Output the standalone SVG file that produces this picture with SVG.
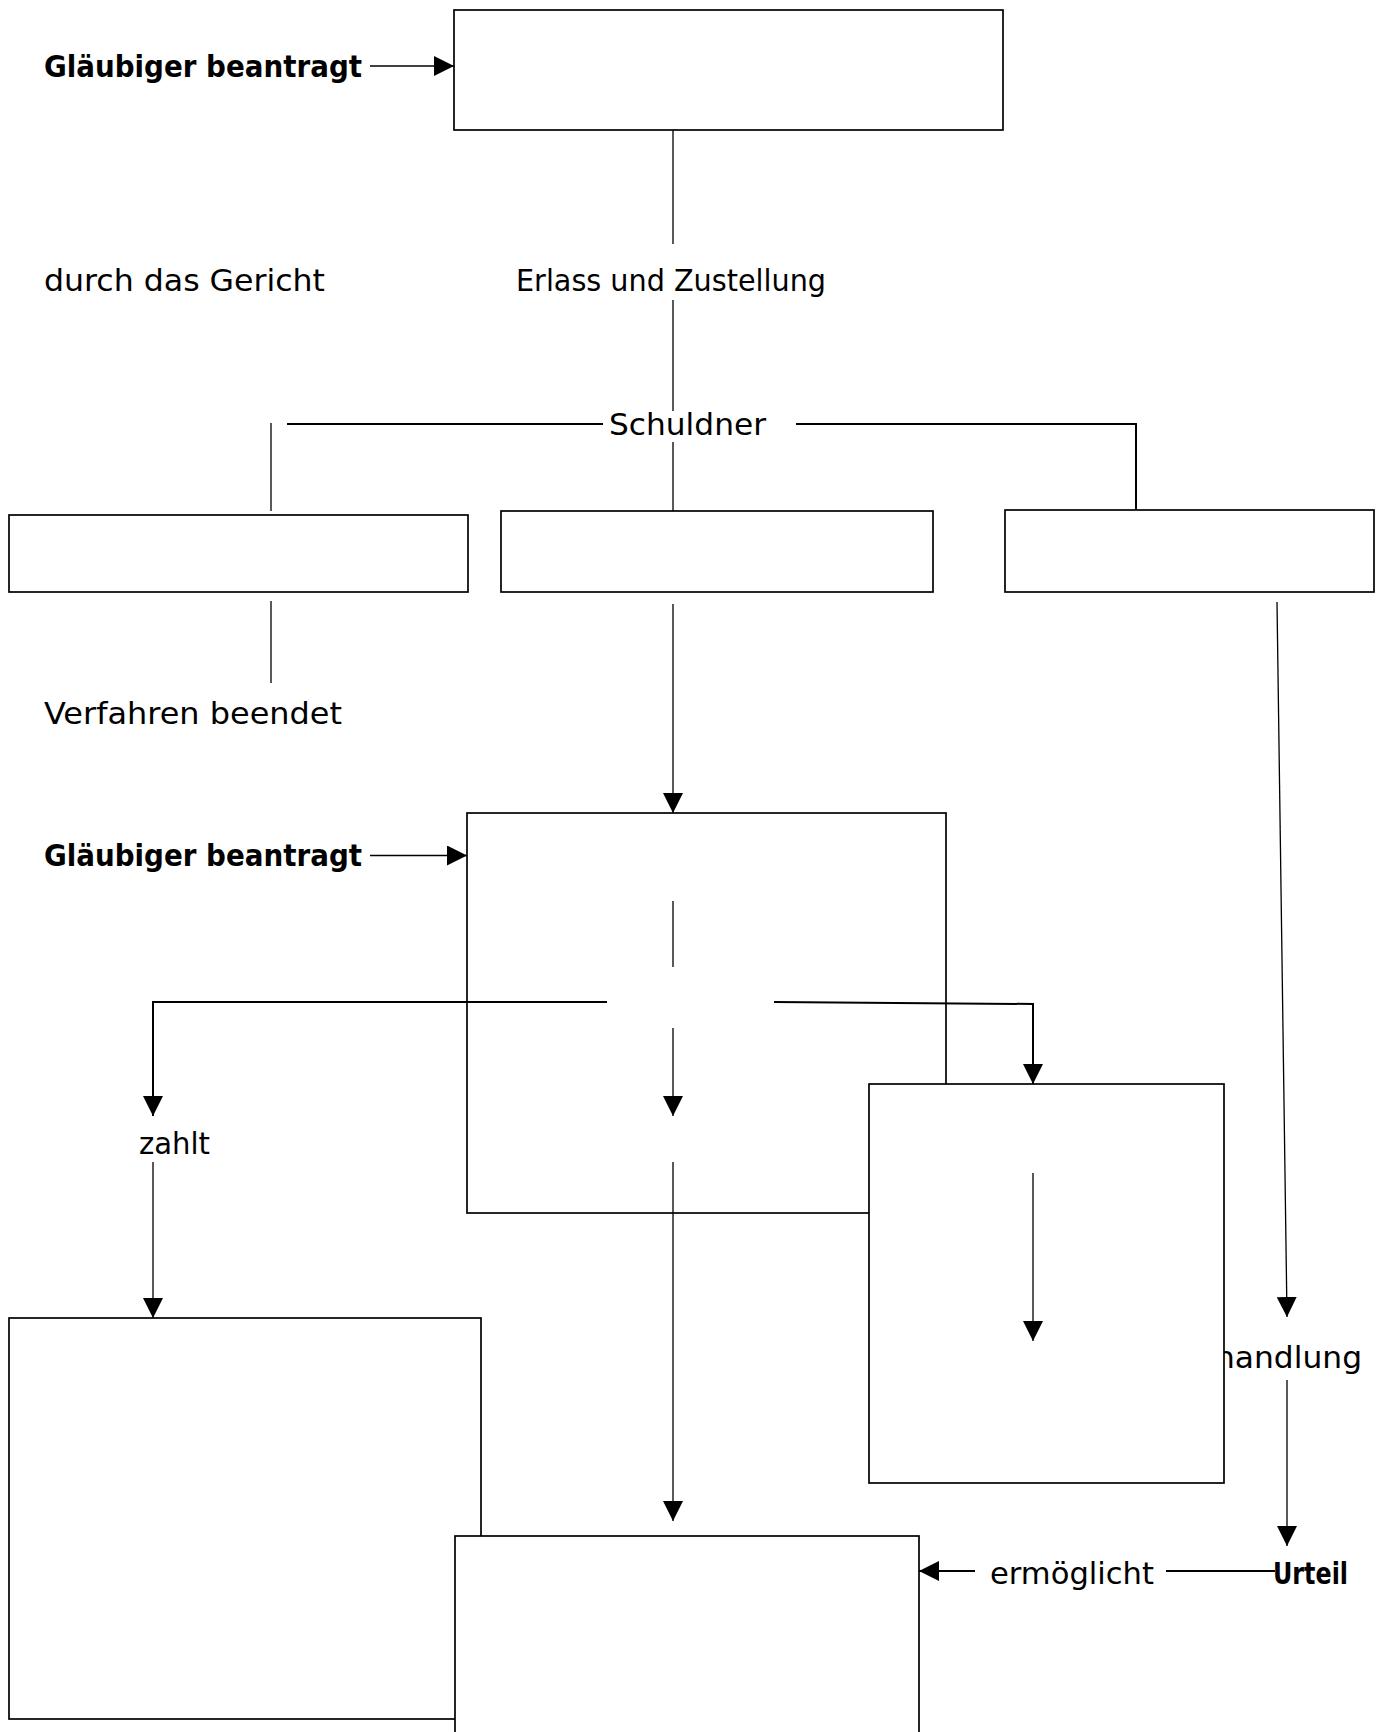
<svg xmlns="http://www.w3.org/2000/svg" width="1383" height="1732" viewBox="0 0 1383 1732">
<style>
.box{fill:#fff;stroke:#000;stroke-width:1.7}
.ln{fill:none;stroke:#000;stroke-width:1.3}
.hl{fill:none;stroke:#000;stroke-width:2}
.t{font-family:"DejaVu Sans","Liberation Sans",sans-serif;font-size:30px;fill:#000}
.b{font-family:"DejaVu Sans","Liberation Sans",sans-serif;font-size:30px;font-weight:bold;fill:#000}
</style>
<defs>
<marker id="ah" markerWidth="20" markerHeight="20" refX="20" refY="10" orient="auto" markerUnits="userSpaceOnUse"><path d="M0,0 L20,10 L0,20 z" fill="#000"/></marker>
</defs>
<rect width="1383" height="1732" fill="#fff"/>
<g id="labels">
<text id="l-glaeubiger1" class="b" x="44" y="76.5" textLength="318" lengthAdjust="spacingAndGlyphs">Gläubiger beantragt</text>
<text id="l-gericht" class="t" x="44" y="291" textLength="281" lengthAdjust="spacingAndGlyphs">durch das Gericht</text>
<text id="l-erlass" class="t" x="516" y="291" textLength="310" lengthAdjust="spacingAndGlyphs">Erlass und Zustellung</text>
<text id="l-schuldner" class="t" x="609" y="435" textLength="157" lengthAdjust="spacingAndGlyphs">Schuldner</text>
<text id="l-verfahren" class="t" x="44" y="723.5" textLength="298" lengthAdjust="spacingAndGlyphs">Verfahren beendet</text>
<text id="l-glaeubiger2" class="b" x="44" y="866" textLength="318" lengthAdjust="spacingAndGlyphs">Gläubiger beantragt</text>
<text id="l-zahlt" class="t" x="139" y="1154" textLength="71" lengthAdjust="spacingAndGlyphs">zahlt</text>
<text id="l-handlung" class="t" x="1215" y="1368" textLength="147" lengthAdjust="spacingAndGlyphs">handlung</text>
<text id="l-ermoeglicht" class="t" x="990" y="1584" textLength="164" lengthAdjust="spacingAndGlyphs">ermöglicht</text>
<text id="l-urteil" class="b" x="1273" y="1584" textLength="75" lengthAdjust="spacingAndGlyphs">Urteil</text>
</g>
<g id="n-top"><rect class="box" x="454" y="10" width="549" height="120"/></g>
<g id="n-left"><rect class="box" x="9" y="515" width="459" height="77"/></g>
<g id="n-mid"><rect class="box" x="501" y="511" width="432" height="81"/></g>
<g id="n-right"><rect class="box" x="1005" y="510" width="369" height="82"/></g>
<g id="n-a"><rect class="box" x="467" y="813" width="479" height="400"/></g>
<g id="n-b"><rect class="box" x="869" y="1084" width="355" height="399"/></g>
<g id="n-c"><rect class="box" x="9" y="1318" width="472" height="401"/></g>
<g id="n-d"><rect class="box" x="455" y="1536" width="464" height="210"/></g>
<g id="connectors">
<line class="ln" x1="370" y1="66" x2="454" y2="66" marker-end="url(#ah)"/>
<line class="ln" x1="673" y1="130" x2="673" y2="244"/>
<line class="ln" x1="673" y1="300" x2="673" y2="411"/>
<line class="ln" x1="673" y1="442" x2="673" y2="511"/>
<line class="hl" x1="287" y1="424" x2="603" y2="424"/>
<polyline class="hl" points="796,424 1136,424 1136,510"/>
<line class="ln" x1="271" y1="423" x2="271" y2="511"/>
<line class="ln" x1="271" y1="601" x2="271" y2="683"/>
<line class="ln" x1="673" y1="604" x2="673" y2="813" marker-end="url(#ah)"/>
<line class="ln" x1="370" y1="855.5" x2="467" y2="855.5" marker-end="url(#ah)"/>
<line class="ln" x1="673" y1="901" x2="673" y2="967"/>
<polyline class="hl" points="607,1002 153,1002 153,1116" marker-end="url(#ah)"/>
<polyline class="hl" points="774,1002 1033,1004 1033,1084" marker-end="url(#ah)"/>
<line class="ln" x1="673" y1="1028" x2="673" y2="1116" marker-end="url(#ah)"/>
<line class="ln" x1="153" y1="1162" x2="153" y2="1318" marker-end="url(#ah)"/>
<line class="ln" x1="673" y1="1162" x2="673" y2="1521" marker-end="url(#ah)"/>
<line class="ln" x1="1033" y1="1173" x2="1033" y2="1341" marker-end="url(#ah)"/>
<line class="ln" x1="1277" y1="602" x2="1287" y2="1317" marker-end="url(#ah)"/>
<line class="ln" x1="1287" y1="1380" x2="1287" y2="1546" marker-end="url(#ah)"/>
<line class="hl" x1="1166" y1="1571" x2="1275" y2="1571"/>
<line class="hl" x1="975" y1="1571" x2="919" y2="1571" marker-end="url(#ah)"/>
</g>
</svg>
